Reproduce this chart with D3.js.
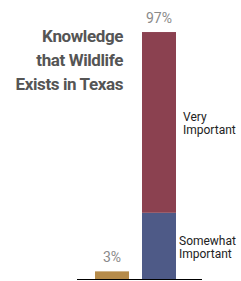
<!DOCTYPE html>
<html><head><meta charset="utf-8">
<script src="https://cdn.jsdelivr.net/npm/d3@7"></script>
<style>body{margin:0;background:#fff}svg{display:block}</style>
</head><body>
<script>
const titleLines = ["Knowledge", "that Wildlife", "Exists in Texas"];
const categories = ["Not Important", "Important"];
const totals = [3, 97];
const segmentNames = ["Somewhat Important", "Very Important"];
const segmentValues = [26, 71];
const totalLabels = ["3%", "97%"];

const W = 241, H = 281;
const svg = d3.select("body").append("svg").attr("width", W).attr("height", H);

const x = d3.scaleBand().domain(categories).range([95, 176]).paddingInner(13 / 47).paddingOuter(0);
const y = d3.scaleLinear().domain([0, 100]).range([279, 24.4]);

// title
svg.selectAll("text.title").data(titleLines).enter().append("text").attr("class", "title")
  .attr("text-anchor", "end").attr("x", 123).attr("y", (d, i) => 42 + i * 24)
  .attr("font-family", "Roboto, Arial, sans-serif").attr("font-weight", "bold")
  .attr("font-size", 17).attr("fill", "#555").attr("letter-spacing", -0.4).text(d => d);

// small bar
svg.append("rect").attr("x", x(categories[0])).attr("width", x.bandwidth())
  .attr("y", y(totals[0])).attr("height", y(0) - y(totals[0])).attr("fill", "#B68B4A");

// stacked bar
const colors = ["#4E5A87", "#8B4150"];
let acc = 0;
const segs = segmentValues.map((v, i) => { const s = {name: segmentNames[i], y0: acc, y1: acc + v, c: colors[i]}; acc += v; return s; });
svg.selectAll("rect.seg").data(segs).enter().append("rect").attr("class", "seg")
  .attr("x", x(categories[1])).attr("width", x.bandwidth())
  .attr("y", d => y(d.y1)).attr("height", d => y(d.y0) - y(d.y1)).attr("fill", d => d.c);

// total labels
svg.selectAll("text.tot").data(categories).enter().append("text").attr("class", "tot")
  .attr("x", d => x(d) + x.bandwidth() / 2).attr("y", (d, i) => y(totals[i]) - 9)
  .attr("text-anchor", "middle").attr("font-family", "Roboto, Arial, sans-serif")
  .attr("font-size", 14).attr("fill", "#8a8a8a").text((d, i) => totalLabels[i]);

// segment labels
const labX = [179, 183];
segs.forEach((s, i) => {
  const mid = (y(s.y0) + y(s.y1)) / 2;
  s.name.split(" ").forEach((w, j) => {
    svg.append("text").attr("x", labX[i]).attr("y", mid - 1 + j * 13)
      .attr("font-family", "Roboto, Arial, sans-serif")
      .attr("font-size", 12).attr("fill", "#222").text(w);
  });
});

// axis baseline
svg.append("line").attr("x1", 77).attr("x2", 202).attr("y1", 279.5).attr("y2", 279.5)
  .attr("stroke", "#000").attr("stroke-width", 1);
</script>
</body></html>
